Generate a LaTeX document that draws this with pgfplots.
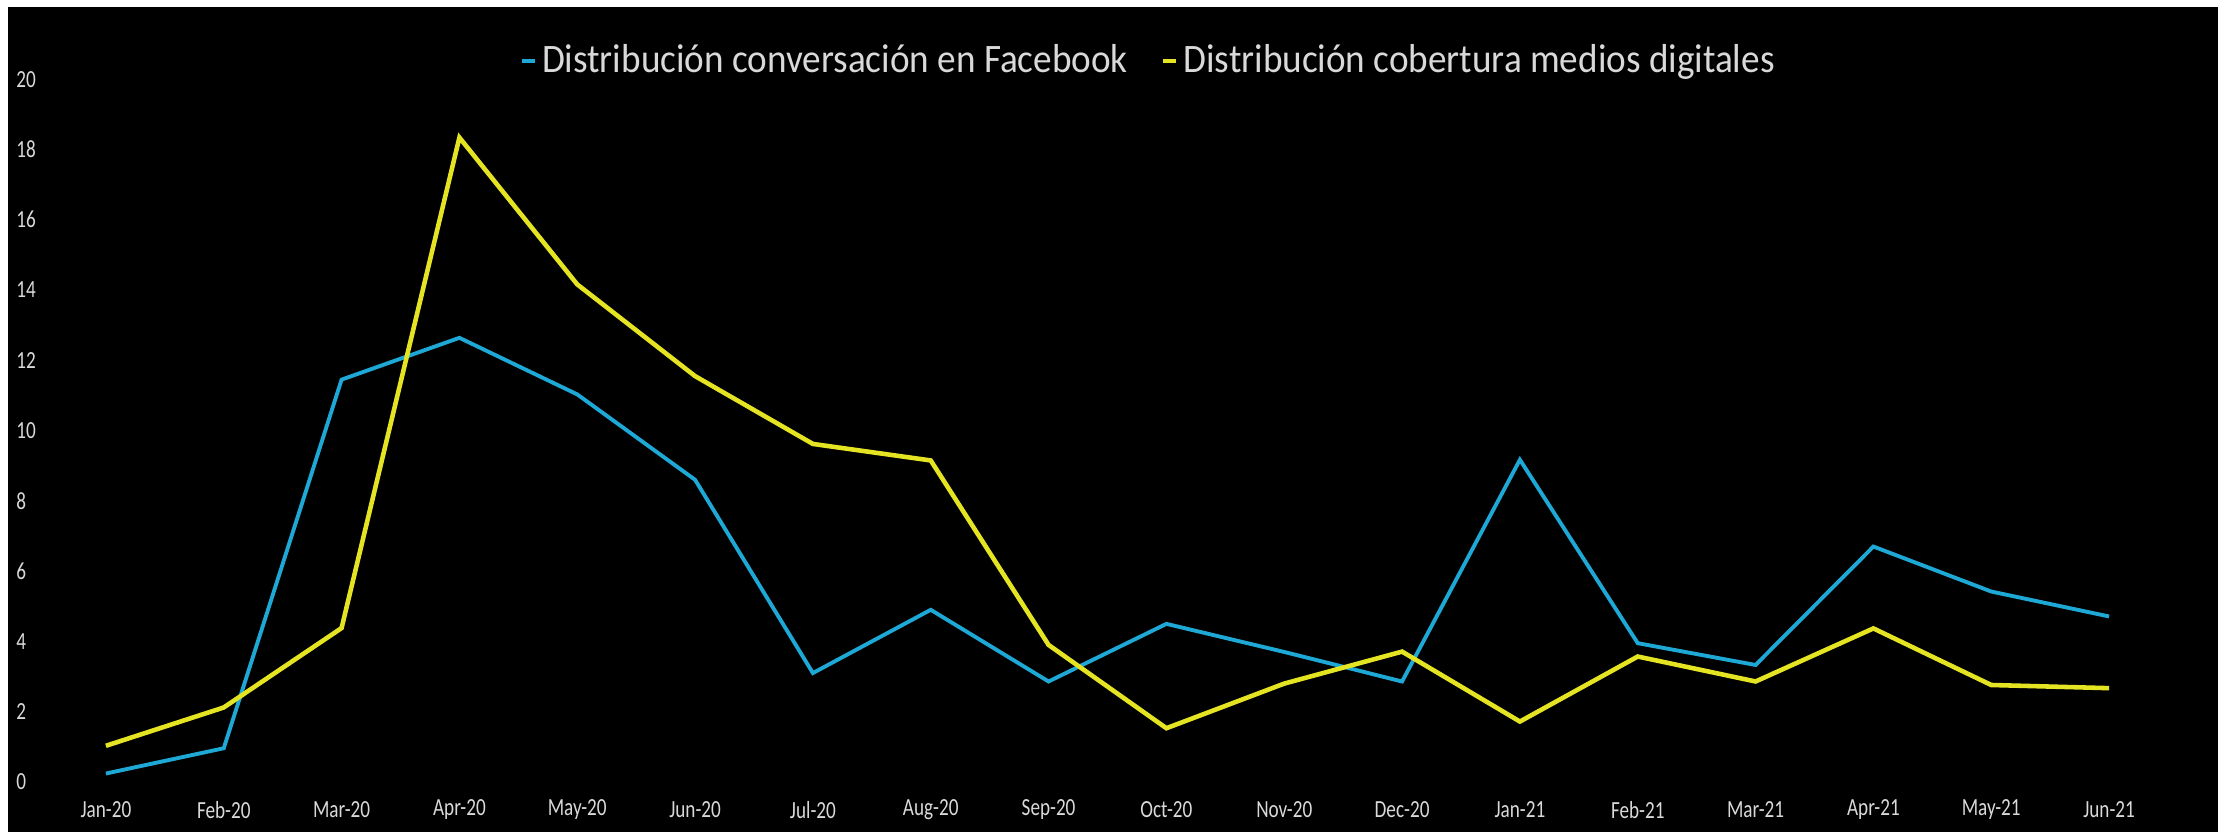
\documentclass[border=0pt]{standalone}
\usepackage{fontspec}
\setmainfont{Carlito}
\newfontfamily\tickfont[FakeStretch=0.78]{Carlito}
\newfontfamily\legfont[FakeStretch=0.92]{Carlito}
\usepackage{pgfplots}
\pgfplotsset{compat=1.18}
\definecolor{fbblue}{RGB}{30,168,214}
\definecolor{medyellow}{RGB}{228,228,34}
\definecolor{txtgray}{RGB}{217,217,217}
\begin{document}
\begin{tikzpicture}
\fill[white] (0,0) rectangle (222.4mm,83.2mm);
\fill[black] (0.8mm,0) rectangle (221.8mm,82.5mm);
\begin{axis}[
  at={(4.7mm,5.0mm)}, anchor=south west,
  scale only axis, width=212.1mm, height=70.28mm,
  xmin=-0.5, xmax=17.5, ymin=0, ymax=20,
  axis line style={draw=none},
  tick style={draw=none},
  xtick={0,...,17},
  xticklabels={Jan-20,Feb-20,Mar-20,Apr-20,May-20,Jun-20,Jul-20,Aug-20,Sep-20,Oct-20,Nov-20,Dec-20,Jan-21,Feb-21,Mar-21,Apr-21,May-21,Jun-21},
  ytick={0,2,...,20},
  /pgf/number format/assume math mode=true,
  ticklabel style={font=\tickfont\fontsize{7}{8}\selectfont, text=txtgray},
  xticklabel style={anchor=center, inner sep=0pt, yshift=-2.8mm},
  yticklabel style={anchor=east, inner sep=0pt, text width=2.5mm, align=left, xshift=-0.5mm},
  legend style={at={(0.52,1.026)}, anchor=center, draw=none, fill=none,
    text=txtgray, font=\legfont\fontsize{11.5}{13}\selectfont, legend columns=2,
    /tikz/every even column/.append style={column sep=2.8mm},
    inner sep=0pt, nodes={inner sep=0.5mm}},
  legend image code/.code={\draw[#1] (0mm,0mm) -- (1.3mm,0mm);},
  clip=false,
]
\addplot[fbblue, line width=1.1pt] coordinates {
(0,0.24) (1,0.96) (2,11.45) (3,12.64) (4,11.03) (5,8.6) (6,3.1) (7,4.9) (8,2.86)
(9,4.5) (10,3.7) (11,2.86) (12,9.17) (13,3.95) (14,3.33) (15,6.7) (16,5.42) (17,4.71)};
\addlegendentry{Distribución conversación en Facebook}
\addplot[medyellow, line width=1.3pt] coordinates {
(0,1.03) (1,2.12) (2,4.38) (3,18.34) (4,14.16) (5,11.55) (6,9.62) (7,9.15) (8,3.9)
(9,1.53) (10,2.8) (11,3.71) (12,1.72) (13,3.57) (14,2.86) (15,4.37) (16,2.76) (17,2.67)};
\addlegendentry{Distribución cobertura medios digitales}
\end{axis}
\pgfresetboundingbox
\path (0,0) rectangle (222.4mm,83.2mm);
\end{tikzpicture}
\end{document}
